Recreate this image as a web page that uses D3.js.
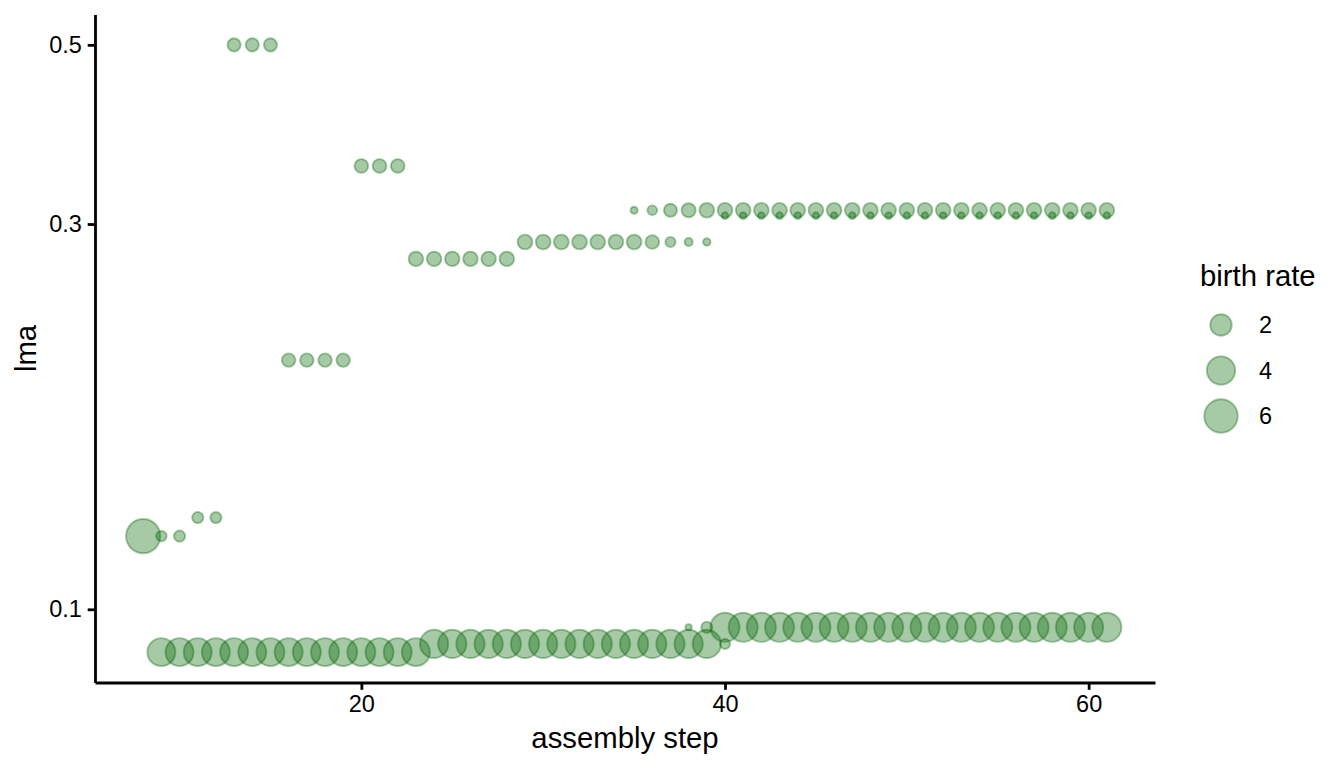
<!DOCTYPE html>
<html>
<head>
<meta charset="utf-8">
<script src="https://cdn.jsdelivr.net/npm/d3@7"></script>
<style>
  body { margin: 0; background: #fff; }
  svg { display: block; font-family: "Liberation Sans", Arial, sans-serif; }
</style>
</head>
<body>
<div id="vis"></div>
<script>
// lineages: one lma value each, present from a first assembly step on,
// with one birth rate per step they are present
const lineageLma = [0.1232, 0.1299, 0.5, 0.2035, 0.354, 0.2716, 0.285, 0.312, 0.3072, 0.0885, 0.0906, 0.095];
const lineageFirstStep = [8, 11, 13, 16, 20, 23, 29, 35, 40, 9, 24, 38];
const lineageBirthRate = [
  [6.3, 0.22, 0.27],
  [0.27, 0.27],
  [0.48, 0.48, 0.48],
  [0.52, 0.52, 0.52, 0.52],
  [0.55, 0.55, 0.55],
  [0.66, 0.66, 0.66, 0.66, 0.66, 0.66],
  [0.69, 0.69, 0.69, 0.69, 0.69, 0.69, 0.69, 0.55, 0.19, 0.07, 0.04],
  [0.03, 0.16, 0.48, 0.6, 0.69, 0.69, 0.69, 0.69, 0.69, 0.69, 0.69, 0.69, 0.69, 0.69,
   0.69, 0.69, 0.69, 0.69, 0.69, 0.69, 0.69, 0.69, 0.69, 0.69, 0.69, 0.69, 0.69],
  [0.02, 0.02, 0.02, 0.02, 0.02, 0.02, 0.02, 0.02, 0.02, 0.02, 0.02,
   0.02, 0.02, 0.02, 0.02, 0.02, 0.02, 0.02, 0.02, 0.02, 0.02, 0.02],
  [3.9, 3.9, 3.9, 3.9, 3.9, 3.9, 3.9, 3.9, 3.9, 3.9, 3.9, 3.9, 3.9, 3.9, 3.9],
  [4.0, 4.0, 4.0, 4.0, 4.0, 4.0, 4.0, 4.0, 4.0, 4.0, 4.0, 4.0, 4.0, 4.0, 4.0, 4.0, 0.19],
  [0.01, 0.27, 4.3, 4.3, 4.3, 4.3, 4.3, 4.3, 4.3, 4.3, 4.3, 4.3, 4.3, 4.3,
   4.3, 4.3, 4.3, 4.3, 4.3, 4.3, 4.3, 4.3, 4.3, 4.3]
];

const xTicks = [20, 40, 60];
const yTicks = [0.1, 0.3, 0.5];
const legendValues = [2, 4, 6];

// layout
const width = 1344, height = 768;
const panel = {left: 95, right: 1155, top: 14.5, bottom: 682.5};
const pointColor = "#006400", pointAlpha = 0.35, pointStroke = 1.9;
const titleSize = 29.3, textSize = 23.5;

// flatten to one row per point
const points = [];
lineageLma.forEach((lma, i) => {
    lineageBirthRate[i].forEach((br, j) => {
        points.push({step: lineageFirstStep[i] + j, lma: lma, birthRate: br});
    });
});

const svg = d3.select("#vis")
    .append("svg")
    .attr("width", width)
    .attr("height", height);

// 5% expansion like ggplot
const xExt = d3.extent(points, d => d.step);
const xPad = (xExt[1] - xExt[0]) * 0.05;
const x = d3.scaleLinear()
    .domain([xExt[0] - xPad, xExt[1] + xPad])
    .range([panel.left, panel.right]);

const lyExt = d3.extent(points, d => Math.log10(d.lma));
const lyPad = (lyExt[1] - lyExt[0]) * 0.05;
const y = d3.scaleLog()
    .domain([Math.pow(10, lyExt[0] - lyPad), Math.pow(10, lyExt[1] + lyPad)])
    .range([panel.bottom, panel.top]);

// area scale for birth rate
const r = d3.scaleSqrt().domain([0, 7]).range([3.5, 18.85]);

function styleCircle(sel) {
    sel.attr("fill", pointColor)
        .attr("fill-opacity", pointAlpha)
        .attr("stroke", pointColor)
        .attr("stroke-opacity", pointAlpha)
        .attr("stroke-width", pointStroke);
}

svg.append("g")
    .selectAll("circle")
    .data(points)
    .join("circle")
    .attr("cx", d => x(d.step))
    .attr("cy", d => y(d.lma))
    .attr("r", d => r(d.birthRate) - pointStroke / 2)
    .call(styleCircle);

// axes
const xAxis = svg.append("g")
    .attr("transform", `translate(0,${panel.bottom})`)
    .call(d3.axisBottom(x).tickValues(xTicks).tickFormat(d3.format("d"))
        .tickSize(7.3).tickSizeOuter(0).tickPadding(5.5));

const yAxis = svg.append("g")
    .attr("transform", `translate(${panel.left},0)`)
    .call(d3.axisLeft(y).tickValues(yTicks).tickFormat(d3.format(".1f"))
        .tickSize(7.3).tickSizeOuter(0).tickPadding(5.9));

[xAxis, yAxis].forEach(g => {
    g.select(".domain").attr("stroke", "#000").attr("stroke-width", 2.8);
    g.selectAll(".tick line").attr("stroke", "#000").attr("stroke-width", 2.8);
    g.selectAll(".tick text")
        .attr("fill", "#000")
        .style("font-size", textSize + "px")
        .style("font-family", "'Liberation Sans', Arial, sans-serif");
});

// axis titles
svg.append("text")
    .attr("x", (panel.left + panel.right) / 2)
    .attr("y", 748)
    .attr("text-anchor", "middle")
    .style("font-size", titleSize + "px")
    .text("assembly step");

svg.append("text")
    .attr("transform", `translate(36,${(panel.top + panel.bottom) / 2}) rotate(-90)`)
    .attr("text-anchor", "middle")
    .style("font-size", titleSize + "px")
    .text("lma");

// legend
const legend = svg.append("g").attr("transform", "translate(1200,0)");

legend.append("text")
    .attr("x", 0)
    .attr("y", 286)
    .style("font-size", titleSize + "px")
    .text("birth rate");

const ky = d3.scalePoint().domain(legendValues).range([325, 416]);

const keys = legend.selectAll("g.key")
    .data(legendValues)
    .join("g")
    .attr("class", "key")
    .attr("transform", d => `translate(0,${ky(d)})`);

keys.append("circle")
    .attr("cx", 21)
    .attr("cy", 0)
    .attr("r", d => r(d) - pointStroke / 2)
    .call(styleCircle);

keys.append("text")
    .attr("x", 59)
    .attr("dy", "0.35em")
    .style("font-size", textSize + "px")
    .text(d => d);
</script>
</body>
</html>
